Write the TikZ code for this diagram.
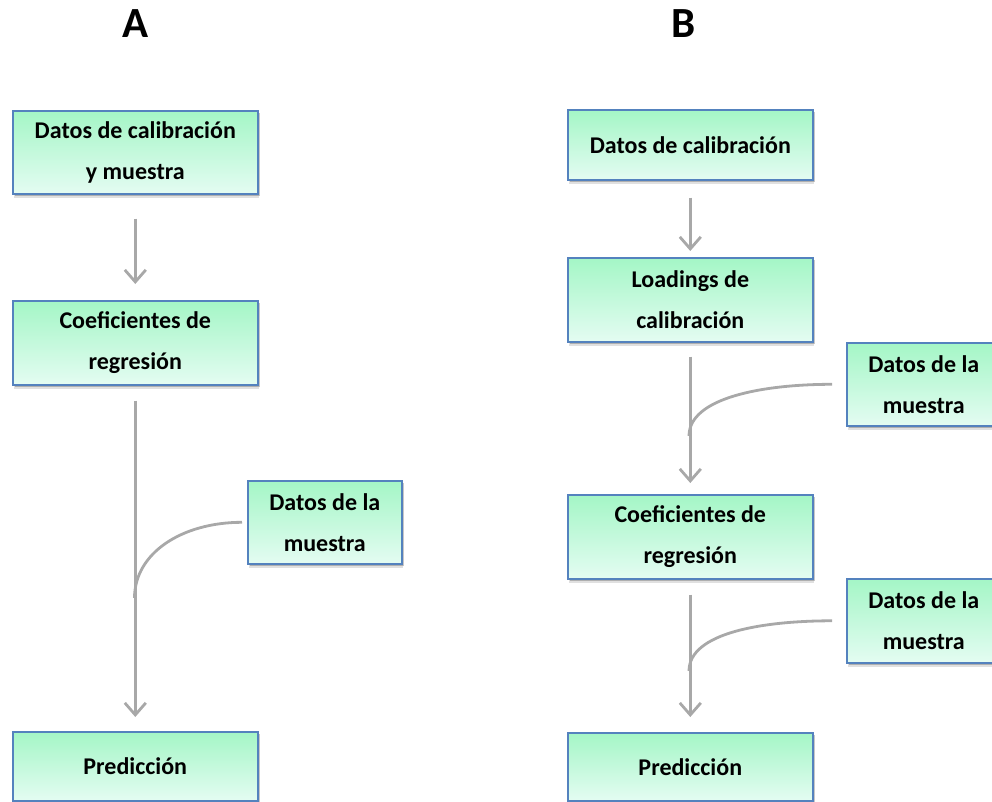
\documentclass[tikz,border=0pt]{standalone}
\usepackage{fontspec}
\setmainfont{Carlito}
\usetikzlibrary{arrows.meta,shadows}

\definecolor{boxtop}{RGB}{164,246,198}
\definecolor{boxbottom}{RGB}{228,252,242}
\definecolor{boxedge}{RGB}{84,130,190}
\definecolor{flow}{RGB}{168,168,168}

\tikzset{
  stage/.style={draw=boxedge, line width=1.6pt,
    top color=boxtop, bottom color=boxbottom,
    general shadow={shadow xshift=1pt, shadow yshift=-4pt,
                    fill=black, opacity=0.12},
    drop shadow={shadow xshift=2pt, shadow yshift=-2.5pt,
                 fill=black, opacity=0.22},
    align=center, inner sep=0pt, anchor=north west,
    font=\fontsize{24}{41}\selectfont\bfseries},
  wide/.style={minimum width=245pt},
  narrow/.style={minimum width=154pt},
  flowline/.style={draw=flow, line width=2.8pt,
    -{Straight Barb[length=12pt,width=21pt]}},
  feed/.style={draw=flow, line width=2.8pt},
  title/.style={font=\fontsize{43}{50}\selectfont\bfseries}
}

\begin{document}
\begin{tikzpicture}[x=1pt,y=-1pt]
\clip (0,0) rectangle (992,802);

% column titles
\node[title] (ta) at (136,24) {A};
\node[title] (tb) at (684,24) {B};

% --- scheme A ---
\node[stage,wide,minimum height=83pt] (a1) at (12,110) {Datos de calibración\\y muestra};
\node[stage,wide,minimum height=84pt] (a2) at (12,300) {Coeficientes de\\regresión};
\node[stage,wide,minimum height=69pt] (a3) at (12,731) {Predicción};
\node[stage,narrow,minimum height=83pt] (a4) at (247,480) {Datos de la\\muestra};

\draw[flowline, shorten <=24pt, shorten >=16pt] (a1.south) -- (a2.north);
\draw[flowline, shorten <=15pt, shorten >=14pt] (a2.south) -- (a3.north);
\coordinate (ja) at (134.5,598);
\draw[feed] ([xshift=-5pt]a4.west) .. controls +(-60,0) and +(0,-45) .. (ja);

% --- scheme B ---
\node[stage,wide,minimum height=70pt] (b1) at (567,109) {Datos de calibración};
\node[stage,wide,minimum height=84pt] (b2) at (567,257) {Loadings de\\calibración};
\node[stage,wide,minimum height=84pt] (b3) at (567,494) {Coeficientes de\\regresión};
\node[stage,wide,minimum height=68pt] (b6) at (567,732) {Predicción};
\node[stage,narrow,minimum height=83pt] (b4) at (846,342) {Datos de la\\muestra};
\node[stage,narrow,minimum height=84pt] (b5) at (846,578) {Datos de la\\muestra};

\draw[flowline, shorten <=17pt, shorten >=6pt] (b1.south) -- (b2.north);
\draw[flowline, shorten <=14pt, shorten >=11pt] (b2.south) -- (b3.north);
\draw[flowline, shorten <=15pt, shorten >=15pt] (b3.south) -- (b6.north);
\coordinate (jb1) at (689,436);
\coordinate (jb2) at (689,671);
\draw[feed] ([xshift=-14pt]b4.west) .. controls +(-70,0) and +(0,-38) .. (jb1);
\draw[feed] ([xshift=-14pt]b5.west) .. controls +(-70,0) and +(0,-38) .. (jb2);
\end{tikzpicture}
\end{document}
